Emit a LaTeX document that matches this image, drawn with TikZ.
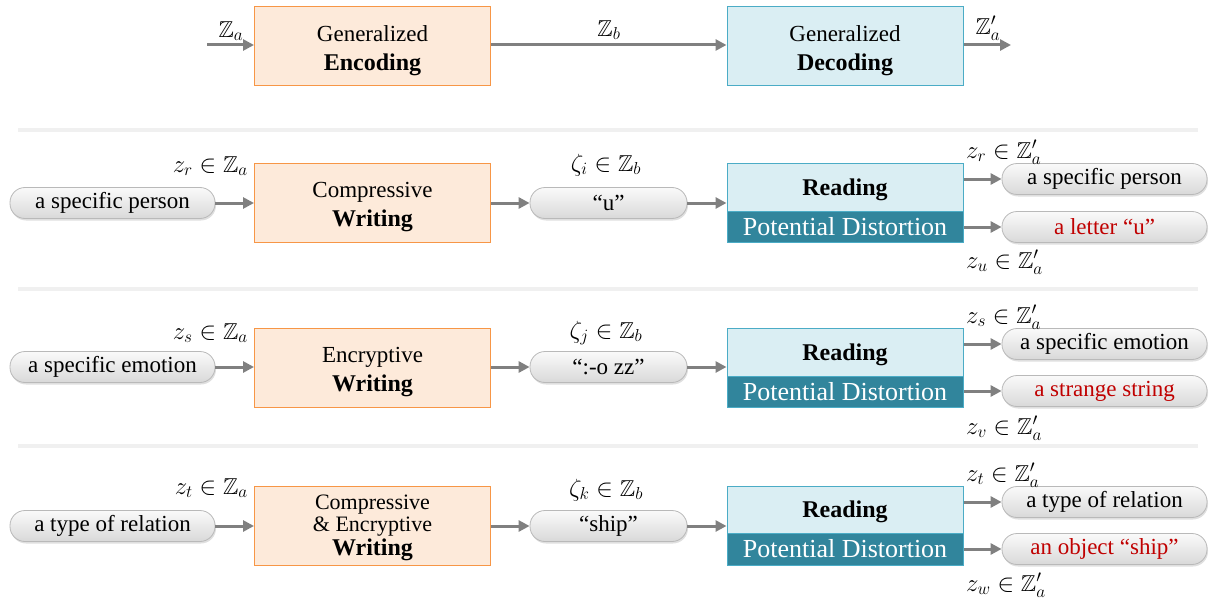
\documentclass[tikz,border=0pt]{standalone}
\usepackage{amssymb}
\usepackage{fontspec}
\setmainfont{Liberation Serif}
\usetikzlibrary{arrows.meta,shadows}
\definecolor{encfill}{HTML}{FDEADA}
\definecolor{encdraw}{HTML}{F79646}
\definecolor{decfill}{HTML}{DAEEF3}
\definecolor{decdraw}{HTML}{4BACC6}
\definecolor{distfill}{HTML}{31859C}
\definecolor{arrgray}{HTML}{808080}
\definecolor{redtxt}{HTML}{C00000}
\definecolor{sepgray}{HTML}{F0F0F0}
\newcommand\myboxfont{\fontsize{23}{29}\selectfont}
\newcommand\myboldfont{\fontsize{24}{29}\selectfont\bfseries}
\newcommand\mypillfont{\fontsize{23}{27}\selectfont}
\newcommand\mylabfont{\fontsize{23}{27}\selectfont}
\newcommand\mydistfont{\fontsize{26}{30}\selectfont}
\newcommand\mytopstrut{\rule{0pt}{24pt}}
\begin{document}
\begin{tikzpicture}[x=1pt,y=-1pt,
  encbox/.style={draw=encdraw, fill=encfill, line width=1pt, minimum width=236pt,
    minimum height=79pt, inner sep=0pt, align=center, font=\myboxfont},
  decbox/.style={draw=decdraw, fill=decfill, line width=1pt, minimum width=236pt,
    minimum height=79pt, inner sep=0pt, align=center, font=\myboxfont},
  readbox/.style={draw=decdraw, fill=decfill, line width=1pt, minimum width=236pt,
    inner sep=0pt, font=\myboldfont, text height=16pt, text depth=0pt},
  distbox/.style={draw=decdraw, fill=distfill, line width=1pt, minimum width=236pt,
    inner sep=0pt, text=white, font=\mydistfont},
  pill/.style={draw=gray!55, line width=0.8pt, rounded corners=15pt, top color=gray!4,
    bottom color=gray!30, minimum height=31pt, inner sep=0pt, font=\mypillfont,
    drop shadow={opacity=0.25, shadow xshift=1pt, shadow yshift=-2pt}},
  lpill/.style={pill, minimum width=205pt},
  mpill/.style={pill, minimum width=157pt},
  opill/.style={pill, minimum width=205pt},
  lab/.style={font=\mylabfont, inner sep=0pt},
  arr/.style={draw=arrgray, line width=3pt, -{Triangle[length=11pt,width=11pt]}},
  sep/.style={draw=sepgray, line width=4pt}
]
\useasboundingbox (0,0) rectangle (1210,599);

% separators
\coordinate (s1a) at (18,130); \coordinate (s1b) at (1198,130);
\coordinate (s2a) at (18,289); \coordinate (s2b) at (1198,289);
\coordinate (s3a) at (18,446); \coordinate (s3b) at (1198,446);
\draw[sep] (s1a) -- (s1b);
\draw[sep] (s2a) -- (s2b);
\draw[sep] (s3a) -- (s3b);

% top row
\node[encbox] (enc) at (372.5,46.5) {\mytopstrut Generalized\\{\myboldfont Encoding}};
\node[decbox] (dec) at (845,46.5) {\mytopstrut Generalized\\{\myboldfont Decoding}};
\coordinate (zin) at (207,45);
\coordinate (zout) at (1011,45);
\draw[arr] (zin) -- (zin -| enc.west);
\draw[arr] (enc.east |- zin) -- (zin -| dec.west);
\draw[arr] (dec.east |- zout) -- (zout);
\node[lab] (tza) at (231,31) {$\mathbb{Z}_a$};
\node[lab] (tzb) at (609,30) {$\mathbb{Z}_b$};
\node[lab] (tzc) at (988,28) {$\mathbb{Z}_a'$};

% row 1
\node[lpill] (p1) at (112.5,203) {a specific person};
\node[encbox] (w1) at (372.5,202.5) {\mytopstrut Compressive\\{\myboldfont Writing}};
\node[mpill] (m1) at (608.5,203) {“u”};
\node[readbox, minimum height=48pt] (r1) at (845,187) {Reading};
\node[distbox, minimum height=31pt] (d1) at (845,226.5) {Potential Distortion};
\node[opill] (o1a) at (1104.5,179) {a specific person};
\node[opill, text=redtxt] (o1b) at (1104.5,227) {a letter “u”};
\draw[arr] (p1) -- (p1 -| w1.west);
\draw[arr] (w1.east |- m1) -- (m1);
\draw[arr] (m1) -- (m1 -| r1.west);
\draw[arr] (r1.east |- o1a) -- (o1a);
\draw[arr] (d1.east |- o1b) -- (o1b);
\node[lab, anchor=east] (l1a) at (248,166) {$z_r \in \mathbb{Z}_a$};
\node[lab] (l1b) at (606,165) {$\zeta_i \in \mathbb{Z}_b$};
\node[lab, anchor=west] (l1c) at (966,152) {$z_r \in \mathbb{Z}_a'$};
\node[lab, anchor=west] (l1d) at (966,262) {$z_u \in \mathbb{Z}_a'$};

% row 2
\node[lpill] (p2) at (112.5,367) {a specific emotion};
\node[encbox] (w2) at (372.5,367.5) {\mytopstrut Encryptive\\{\myboldfont Writing}};
\node[mpill] (m2) at (608.5,367) {“:-o zz”};
\node[readbox, minimum height=48pt] (r2) at (845,352) {Reading};
\node[distbox, minimum height=31pt] (d2) at (845,391.5) {Potential Distortion};
\node[opill] (o2a) at (1104.5,344) {a specific emotion};
\node[opill, text=redtxt] (o2b) at (1104.5,391) {a strange string};
\draw[arr] (p2) -- (p2 -| w2.west);
\draw[arr] (w2.east |- m2) -- (m2);
\draw[arr] (m2) -- (m2 -| r2.west);
\draw[arr] (r2.east |- o2a) -- (o2a);
\draw[arr] (d2.east |- o2b) -- (o2b);
\node[lab, anchor=east] (l2a) at (248,333) {$z_s \in \mathbb{Z}_a$};
\node[lab] (l2b) at (606,333) {$\zeta_j \in \mathbb{Z}_b$};
\node[lab, anchor=west] (l2c) at (966,317) {$z_s \in \mathbb{Z}_a'$};
\node[lab, anchor=west] (l2d) at (966,428) {$z_v \in \mathbb{Z}_a'$};

% row 3
\node[lpill] (p3) at (112.5,526) {a type of relation};
\node[encbox, font=\fontsize{22}{22}\selectfont] (w3) at (372.5,525.5)
  {\rule{0pt}{20pt}Compressive\\\&\ Encryptive\\[2pt]{\myboldfont Writing}};
\node[mpill] (m3) at (608.5,526) {“ship”};
\node[readbox, minimum height=47pt] (r3) at (845,509.5) {Reading};
\node[distbox, minimum height=32pt] (d3) at (845,549) {Potential Distortion};
\node[opill] (o3a) at (1104.5,502) {a type of relation};
\node[opill, text=redtxt] (o3b) at (1104.5,549) {an object “ship”};
\draw[arr] (p3) -- (p3 -| w3.west);
\draw[arr] (w3.east |- m3) -- (m3);
\draw[arr] (m3) -- (m3 -| r3.west);
\draw[arr] (r3.east |- o3a) -- (o3a);
\draw[arr] (d3.east |- o3b) -- (o3b);
\node[lab, anchor=east] (l3a) at (248,488) {$z_t \in \mathbb{Z}_a$};
\node[lab] (l3b) at (606,490) {$\zeta_k \in \mathbb{Z}_b$};
\node[lab, anchor=west] (l3c) at (966,475) {$z_t \in \mathbb{Z}_a'$};
\node[lab, anchor=west] (l3d) at (966,585) {$z_w \in \mathbb{Z}_a'$};
\end{tikzpicture}
\end{document}
